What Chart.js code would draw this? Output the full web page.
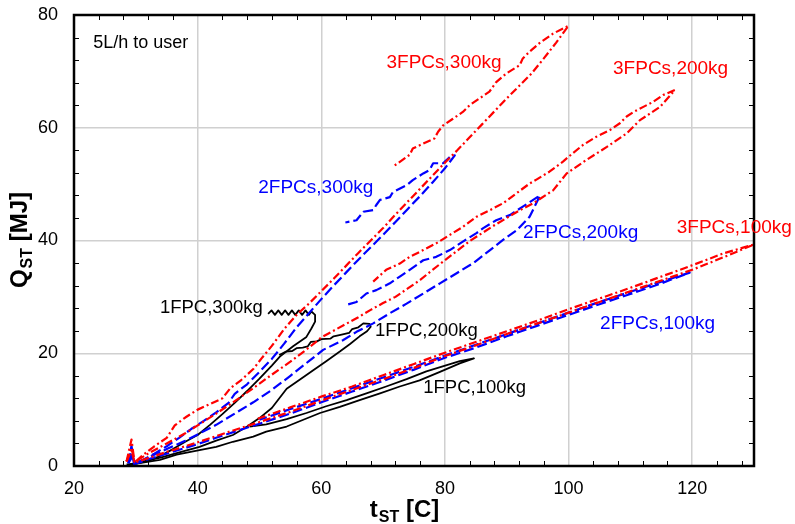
<!DOCTYPE html>
<html>
<head>
<meta charset="utf-8">
<script src="https://cdn.jsdelivr.net/npm/chart.js@4.4.0/dist/chart.umd.min.js"></script>
<style>
  html, body { margin: 0; padding: 0; background: #fff; }
  canvas { display: block; }
</style>
</head>
<body>
<canvas id="qChart" width="795" height="524"></canvas>
<script>
// Stored energy Q_ST [MJ] against storage temperature t_ST [C], 5 L/h draw to user
// each curve: charging branch up to the tip, then the return branch

// 3FPCs, 300kg
const fpc3_300_t = [28.5, 29.3, 29.8, 31, 33, 35, 36.3, 38, 40, 42, 44, 45.3, 47, 49, 50.5, 52, 54, 56, 58, 60, 62, 64, 66, 68, 70, 72, 74, 76, 78, 80, 82, 84, 86, 88, 90, 92, 94, 96, 98, 100,
  97.5, 95.3, 93.7, 92.6, 92.1, 89.9, 88.3, 87.2, 85.6, 84, 82.9, 81.3, 79.7, 78.9, 78.3, 76.5, 74.8, 74.3, 71.6];
const fpc3_300_q = [0.8, 4.7, 0.6, 1.8, 3.5, 5, 7.2, 8.6, 10, 11, 12, 13.8, 15.2, 17.2, 19.3, 21.3, 24.3, 26.8, 28.8, 31, 33.2, 35.5, 37.8, 40, 42.2, 44.6, 46.9, 49.2, 51.5, 53.8, 56, 58.3, 60.6, 62.9, 65.2, 67.4, 69.6, 72.3, 75.1, 78.1,
  76.7, 75, 73.5, 72.3, 71.1, 69.6, 68.1, 66.4, 65.2, 64, 62.8, 61.6, 60.4, 59.3, 58.1, 57.2, 56.3, 55.2, 53.1];

// 2FPCs, 300kg
const fpc2_300_t = [28.8, 29.3, 29.7, 31, 33, 35, 37, 39, 41, 43, 45, 46, 48, 50, 52, 54, 56, 58, 60, 62, 64, 66, 68, 70, 72, 74, 76, 78, 80, 81.6,
  80.8, 79.7, 78.1, 77.5, 76.5, 74.8, 73.8, 71.6, 71.1, 69.5, 68.9, 68.4, 66.8, 65.7, 63.9];
const fpc2_300_q = [0.5, 3.6, 0.4, 1, 2.2, 3.5, 5, 6.6, 8, 9.5, 11.2, 12.8, 14.5, 16.7, 19, 21.7, 24.6, 27.1, 29.6, 32, 34.3, 36.6, 38.8, 41, 43.3, 45.6, 47.9, 50.3, 52.8, 55.1,
  54.8, 53.7, 53.7, 52.5, 51.9, 50.7, 49.8, 48.6, 47.7, 47.2, 46.3, 45.4, 45.1, 43.6, 43.2];

// 1FPC, 300kg
const fpc1_300_t = [28.5, 30, 32, 34, 36, 38, 40, 42, 44, 46, 48, 50, 52, 53.3, 55.5, 57.6, 58.4, 59, 59, 58.4,
  58, 57.45, 56.9, 56.35, 55.8, 55.25, 54.7, 54.15, 53.6, 53.05, 52.5, 51.95, 51.4];
const fpc1_300_q = [0.3, 0.4, 0.9, 1.8, 3, 4.3, 5.5, 7.3, 9.2, 11.2, 13.3, 15.5, 17.8, 19.4, 21.3, 22.9, 24.4, 25.6, 26.8, 27.4,
  26.8, 27.6, 26.8, 27.6, 26.8, 27.6, 26.8, 27.6, 26.8, 27.6, 26.8, 27.6, 27.0];

// 3FPCs, 200kg
const fpc3_200_t = [28.5, 29.3, 29.8, 32, 35, 38, 40, 43, 46, 49, 52, 55, 58, 60, 62, 64, 66, 68, 70, 72, 74, 76, 78, 80, 82, 84, 86, 88, 90, 92, 94.3, 97.5, 99.7, 102.9, 106.2, 109.4, 111.5, 114.8, 117.2,
  115.3, 113.7, 112.1, 110.5, 109.4, 108.3, 106.7, 104.5, 102.4, 100.7, 99.1, 96.9, 94.8, 93.7, 91.6, 89.4, 87.3, 85.1, 82.9, 80.8, 78.6, 76.5, 74.3, 72.7, 70.5, 68.4];
const fpc3_200_q = [0.8, 3.2, 0.7, 2.2, 4, 5.8, 7.2, 9.3, 11.5, 13.8, 16.2, 18.5, 21, 22.8, 24, 25.2, 26.4, 27.7, 28.9, 30, 31.5, 33, 34.8, 36.5, 38.2, 39.9, 41.3, 42.7, 44, 45.3, 46.6, 48.9, 51.9, 54.3, 56.6, 59, 61.3, 63.7, 66.7,
  65.8, 64.6, 63.7, 62.8, 62, 60.8, 59.6, 58.4, 57, 55.5, 54, 52.2, 50.8, 50.1, 48.4, 46.6, 45.4, 44.2, 42.4, 41, 39.5, 38.3, 37.1, 35.9, 34.8, 32.7];

// 2FPCs, 200kg
const fpc2_200_t = [28.8, 29.3, 29.8, 32, 35, 38, 40, 43, 46, 49, 52, 55, 58, 60.3, 63.5, 65.7, 68.4, 71.1, 73.8, 76.5, 79.2, 81.9, 84.6, 87.3, 89.4, 91.6, 93.7, 95.4,
  92.6, 90.5, 88.3, 86.2, 85.1, 82.9, 80.8, 78.6, 76.5, 74.3, 72.7, 71.1, 68.9, 67.3, 65.7, 63.8];
const fpc2_200_q = [0.5, 2.5, 0.4, 1.5, 3, 4.5, 5.6, 7.3, 9.3, 11.3, 13.5, 16, 18.6, 20.6, 22.3, 23.8, 25.3, 27.1, 28.8, 30.6, 32.4, 34.2, 36, 38.3, 40.1, 41.8, 44.2, 48,
  46, 44.5, 43.6, 42.2, 41.3, 39.8, 38.3, 37.1, 36.5, 34.8, 33.6, 32.4, 31.2, 30.6, 29.1, 28.5];

// 1FPC, 200kg
const fpc1_200_t = [29, 31.2, 34, 36.6, 40.3, 43, 45.7, 48, 50, 52, 54.4, 56.5, 58.7, 60.8, 63, 64.6, 66.2, 67.4, 68, 67.8,
  66.8, 66, 65, 64.5, 63.3, 62, 61.5, 60, 59.3, 58.3, 57.8, 57, 56, 55.3, 54.3, 53.2];
const fpc1_200_q = [0.3, 0.8, 1.5, 2.3, 3.4, 4.5, 5.5, 7, 8.5, 10.3, 13.7, 15.3, 17, 18.6, 20.3, 21.6, 23, 23.9, 24.7, 25.2,
  25.3, 24.6, 24.3, 23.6, 23.3, 23, 22.6, 22.5, 22.1, 22, 21.2, 21, 20.9, 20.4, 20.3, 19.7];

// 3FPCs, 100kg
const fpc3_100_t = [28.5, 29.3, 29.8, 32, 35, 38, 40, 43, 46, 50, 55, 60, 65, 70, 75, 80, 85, 90, 95, 100, 105, 110, 115, 120, 125, 130,
  125, 120, 115, 110, 105, 100, 95, 90, 85, 80, 75, 70, 65, 60, 55, 49.5];
const fpc3_100_q = [0.8, 2.8, 0.6, 1.4, 2.5, 3.5, 4.2, 5.3, 6.4, 7.8, 9.6, 11.6, 13.5, 15.4, 17.4, 19.5, 21.4, 23.4, 25.3, 27.2, 29.1, 31, 32.9, 34.8, 37, 39.3,
  37.7, 35.6, 33.6, 31.6, 29.7, 27.8, 25.8, 23.9, 22, 20.1, 18.1, 16.1, 14.1, 12.3, 10.4, 8.3];

// 2FPCs, 100kg
const fpc2_100_t = [28.8, 29.5, 30, 32, 35, 38, 40, 43, 46, 50, 55, 60, 65, 70, 75, 80, 85, 90, 95, 100, 105, 110, 115, 119.6,
  115, 110, 105, 100, 95, 90, 85, 80, 75, 70, 65, 60, 55, 50];
const fpc2_100_q = [0.5, 1.8, 0.4, 1.2, 2.2, 3.2, 3.9, 5, 6.1, 7.5, 9.3, 11.3, 13.2, 15.1, 17.1, 19.2, 21, 23, 24.9, 26.8, 28.7, 30.5, 32.4, 34.3,
  32.7, 30.9, 29.1, 27.2, 25.3, 23.4, 21.5, 19.6, 17.6, 15.7, 13.8, 11.9, 10.1, 8.2];

// 1FPC, 100kg
const fpc1_100_t = [29.5, 30.6, 33.9, 36.6, 40.3, 43, 45.7, 49, 51.1, 54.4, 57.1, 59.8, 63, 66.2, 69.5, 72.7, 75.9, 79.2, 82.4, 84.7,
  82.4, 80.3, 77, 73.8, 70.5, 67.3, 64.1, 60.8, 57.6, 54.4, 51.1, 48.4];
const fpc1_100_q = [0.3, 0.5, 1.1, 2, 2.8, 3.4, 4.3, 5.2, 6.1, 7, 8.2, 9.4, 10.5, 11.7, 12.9, 14.1, 15.2, 16.7, 18.2, 19.1,
  18.6, 17.9, 16.8, 15.4, 14.1, 12.9, 11.7, 10.6, 9.4, 8.3, 7.4, 7.0];

// axis ticks
const xTickValues = [20, 40, 60, 80, 100, 120];
const yTickValues = [0, 20, 40, 60, 80];

// curve labels
const labelText  = ['5L/h to user', '3FPCs,300kg', '3FPCs,200kg', '2FPCs,300kg', '3FPCs,100kg', '2FPCs,200kg', '1FPC,300kg', '1FPC,200kg', '2FPCs,100kg', '1FPC,100kg'];
const labelT     = [23.1, 70.55, 107.2, 49.8, 117.5, 92.65, 33.9, 68.7, 105.1, 76.5];
const labelQ     = [75.0, 71.5, 70.4, 49.4, 42.3, 41.3, 28.1, 23.9, 25.2, 13.8];
const labelColor = ['#000', '#ff0000', '#ff0000', '#0000ff', '#ff0000', '#0000ff', '#000', '#000', '#0000ff', '#000'];
const labelSize  = [18, 19, 19, 19, 19, 19, 18.5, 18.5, 19, 18.5];

const FONT = '"Liberation Sans", Arial, Helvetica, sans-serif';

function pts(ts, qs) {
    return ts.map((t, i) => ({ x: t, y: qs[i] }));
}

const RED = { borderColor: '#ff0000', borderWidth: 2.2, borderDash: [8, 3, 2, 3] };
const BLUE = { borderColor: '#0000ff', borderWidth: 2.2, borderDash: [10, 4] };
const BLACK = { borderColor: '#000000', borderWidth: 1.8, borderDash: [] };

const curves = [
    [fpc3_300_t, fpc3_300_q, RED], [fpc3_200_t, fpc3_200_q, RED], [fpc3_100_t, fpc3_100_q, RED],
    [fpc2_300_t, fpc2_300_q, BLUE], [fpc2_200_t, fpc2_200_q, BLUE], [fpc2_100_t, fpc2_100_q, BLUE],
    [fpc1_300_t, fpc1_300_q, BLACK], [fpc1_200_t, fpc1_200_q, BLACK], [fpc1_100_t, fpc1_100_q, BLACK]
];

const datasets = curves.map(c => Object.assign({
    data: pts(c[0], c[1]),
    showLine: true,
    fill: false,
    tension: 0,
    pointRadius: 0,
    pointHoverRadius: 0,
    borderCapStyle: 'butt',
    borderJoinStyle: 'round'
}, c[2]));

// frame, inward minor ticks, curve labels and axis titles
const decorPlugin = {
    id: 'decor',
    afterDatasetsDraw(chart) {
        const { ctx, chartArea: a, scales: { x, y } } = chart;
        ctx.save();
        ctx.strokeStyle = '#000';
        ctx.lineWidth = 1;
        ctx.beginPath();
        for (let v = 24; v < 130; v += 4) {
            if (v % 20 === 0) continue;
            const px = Math.round(x.getPixelForValue(v)) + 0.5;
            ctx.moveTo(px, a.bottom); ctx.lineTo(px, a.bottom - 5);
            ctx.moveTo(px, a.top); ctx.lineTo(px, a.top + 5);
        }
        for (let v = 4; v < 80; v += 4) {
            if (v % 20 === 0) continue;
            const py = Math.round(y.getPixelForValue(v)) + 0.5;
            ctx.moveTo(a.left, py); ctx.lineTo(a.left + 5, py);
            ctx.moveTo(a.right, py); ctx.lineTo(a.right - 5, py);
        }
        ctx.stroke();

        ctx.lineWidth = 2.5;
        ctx.strokeRect(a.left, a.top, a.right - a.left, a.bottom - a.top);

        ctx.textAlign = 'left';
        ctx.textBaseline = 'middle';
        labelText.forEach((txt, i) => {
            ctx.font = labelSize[i] + 'px ' + FONT;
            ctx.fillStyle = labelColor[i];
            ctx.fillText(txt, x.getPixelForValue(labelT[i]), y.getPixelForValue(labelQ[i]));
        });
        ctx.restore();
    },
    afterDraw(chart) {
        const { ctx, chartArea: a } = chart;
        const big = 'bold 24px ' + FONT;
        const small = 'bold 16px ' + FONT;

        function drawTitle(main, sub, rest, cx, base) {
            ctx.font = big; const w1 = ctx.measureText(main).width; const w3 = ctx.measureText(rest).width;
            ctx.font = small; const w2 = ctx.measureText(sub).width;
            let xx = cx - (w1 + w2 + w3) / 2;
            ctx.fillStyle = '#000';
            ctx.textAlign = 'left';
            ctx.textBaseline = 'alphabetic';
            ctx.font = big; ctx.fillText(main, xx, base); xx += w1 + 1;
            ctx.font = small; ctx.fillText(sub, xx, base + 5); xx += w2;
            ctx.font = big; ctx.fillText(rest, xx, base);
        }

        ctx.save();
        drawTitle('t', 'ST', ' [C]', 404, 517);
        ctx.translate(27, (a.top + a.bottom) / 2);
        ctx.rotate(-Math.PI / 2);
        drawTitle('Q', 'ST', ' [MJ]', 0, 0);
        ctx.restore();
    }
};

document.addEventListener('DOMContentLoaded', () => {
    const ctx = document.getElementById('qChart').getContext('2d');
    new Chart(ctx, {
        type: 'scatter',
        data: { datasets: datasets },
        options: {
            responsive: false,
            animation: false,
            layout: { padding: { top: 15, right: 41, left: 0, bottom: 0 } },
            plugins: { legend: { display: false }, tooltip: { enabled: false } },
            scales: {
                x: {
                    type: 'linear', min: 20, max: 130,
                    afterBuildTicks: s => { s.ticks = xTickValues.map(v => ({ value: v })); },
                    afterFit: s => { s.height = 58; s.paddingLeft = 0; s.paddingRight = 0; },
                    grid: { color: '#d0d0d0', lineWidth: 1.5, drawTicks: false },
                    border: { display: false },
                    ticks: { color: '#000', padding: 12, font: { size: 18, family: FONT } }
                },
                y: {
                    type: 'linear', min: 0, max: 80,
                    afterBuildTicks: s => { s.ticks = yTickValues.map(v => ({ value: v })); },
                    afterFit: s => { s.width = 74; s.paddingTop = 0; s.paddingBottom = 0; },
                    grid: { color: '#d0d0d0', lineWidth: 1.5, drawTicks: false },
                    border: { display: false },
                    ticks: { color: '#000', padding: 16, font: { size: 18, family: FONT } }
                }
            }
        },
        plugins: [decorPlugin]
    });
});
</script>
</body>
</html>
